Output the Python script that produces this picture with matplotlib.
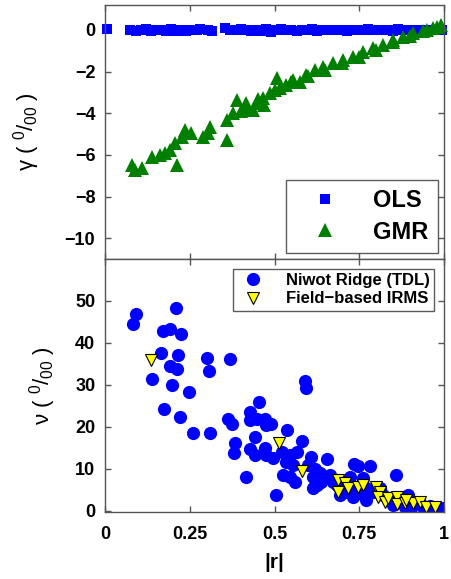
import matplotlib.pyplot as plt
import numpy as np

plt.rcParams['font.family'] = ['Liberation Sans', 'DejaVu Sans']
plt.rcParams['mathtext.fontset'] = 'custom'
plt.rcParams['mathtext.rm'] = 'Liberation Sans'
plt.rcParams['mathtext.it'] = 'Liberation Sans:italic'

# OLS slope offsets (gamma) vs |r|
ols_r = [0.007, 0.075, 0.09, 0.105, 0.12, 0.135, 0.15, 0.165, 0.18, 0.195, 0.21,
         0.225, 0.24, 0.255, 0.27, 0.28, 0.305, 0.315, 0.355, 0.37, 0.385, 0.40,
         0.415, 0.43, 0.445, 0.46, 0.475, 0.49, 0.505, 0.52, 0.535, 0.55, 0.565,
         0.58, 0.595, 0.61, 0.625, 0.64, 0.655, 0.67, 0.685, 0.70, 0.715, 0.73,
         0.745, 0.76, 0.775, 0.79, 0.805, 0.82, 0.835, 0.85, 0.865, 0.88, 0.895,
         0.91, 0.925, 0.94, 0.955, 0.97, 0.985, 0.995]
ols_gamma = [0.05, 0.02, -0.03, 0.0, 0.04, -0.05, -0.02, 0.01, -0.06, 0.03, -0.04,
             0.0, -0.03, 0.02, -0.01, 0.03, 0.0, -0.04, 0.08, 0.02, -0.02, 0.05,
             0.0, -0.03, 0.01, -0.05, 0.03, -0.08, 0.0, 0.04, -0.02, 0.01, -0.04,
             0.02, -0.01, 0.03, -0.03, 0.0, 0.02, -0.02, 0.01, 0.0, -0.03, 0.02,
             0.0, -0.01, 0.03, -0.02, 0.01, 0.0, 0.02, -0.03, 0.05, 0.0, -0.02,
             0.01, 0.0, -0.01, 0.02, 0.0, 0.01, 0.0]

# GMR slope offsets (gamma) vs |r|
gmr_r = [0.079, 0.088, 0.108, 0.138, 0.162, 0.177, 0.192, 0.206, 0.211, 0.226,
         0.236, 0.255, 0.290, 0.309, 0.305, 0.359, 0.359, 0.378, 0.388, 0.417,
         0.437, 0.447, 0.467, 0.486, 0.506, 0.516, 0.535, 0.555, 0.575, 0.594,
         0.619, 0.643, 0.673, 0.702, 0.732, 0.761, 0.791, 0.820, 0.850, 0.879,
         0.909, 0.938, 0.968, 0.992, 0.40, 0.42, 0.45, 0.47, 0.50, 0.55, 0.60,
         0.65, 0.70, 0.75, 0.80, 0.85, 0.90, 0.95, 0.98]
gmr_gamma = [-6.48, -6.72, -6.64, -6.08, -6.0, -5.92, -5.76, -5.44, -6.48, -5.12,
             -4.8, -4.96, -5.12, -4.64, -4.96, -5.28, -4.32, -4.0, -3.36, -3.52,
             -3.84, -3.52, -3.28, -3.04, -2.32, -2.8, -2.64, -2.4, -2.48, -2.16,
             -1.92, -1.76, -1.6, -1.44, -1.28, -1.04, -0.88, -0.72, -0.48, -0.32,
             -0.16, -0.03, 0.08, 0.24, -3.9, -3.8, -3.3, -3.6, -2.9, -2.5, -2.2,
             -1.9, -1.6, -1.3, -0.95, -0.6, -0.3, 0.0, 0.15]

# nu vs |r|, Niwot Ridge TDL
niwot_r = [0.082, 0.091, 0.209, 0.170, 0.192, 0.224, 0.165, 0.216, 0.192, 0.211,
           0.138, 0.199, 0.249, 0.302, 0.308, 0.370, 0.175, 0.222, 0.261, 0.310,
           0.363, 0.375, 0.383, 0.381, 0.415, 0.504, 0.453, 0.429, 0.429, 0.447,
           0.442, 0.427, 0.442, 0.472, 0.476, 0.491, 0.472, 0.476, 0.496, 0.537,
           0.582, 0.589, 0.594, 0.521, 0.545, 0.565, 0.535, 0.555, 0.525, 0.545,
           0.560, 0.609, 0.599, 0.619, 0.614, 0.634, 0.624, 0.614, 0.638, 0.655,
           0.663, 0.673, 0.683, 0.693, 0.712, 0.734, 0.747, 0.781, 0.722, 0.761,
           0.732, 0.752, 0.771, 0.791, 0.810, 0.820, 0.840, 0.858, 0.869, 0.894,
           0.909, 0.929, 0.958, 0.977, 0.997, 0.771, 0.732, 0.693, 0.850, 0.884,
           0.938, 0.904]
niwot_nu = [44.4, 47.0, 48.3, 42.8, 43.3, 42.1, 37.5, 37.1, 34.5, 33.7,
            31.4, 30.1, 28.4, 36.5, 33.3, 36.1, 24.2, 22.4, 18.5, 18.5,
            22.0, 20.8, 16.1, 13.7, 8.0, 3.8, 26.0, 23.6, 21.6, 22.0,
            17.7, 14.7, 13.3, 22.0, 20.4, 20.8, 14.9, 13.3, 12.5, 19.3,
            16.6, 30.9, 29.3, 14.1, 13.3, 14.1, 11.7, 10.9, 8.6, 8.2,
            7.0, 12.9, 10.9, 10.1, 8.2, 9.0, 6.2, 5.4, 7.0, 12.3,
            8.6, 7.0, 6.2, 5.4, 4.6, 11.3, 10.8, 10.8, 8.2, 7.8,
            5.4, 4.2, 5.4, 4.6, 5.4, 3.8, 3.0, 8.6, 2.2, 3.8,
            2.2, 1.8, 1.3, 1.0, 0.8, 2.6, 3.4, 3.8, 1.4, 1.0,
            0.9, 0.8]

# nu vs |r|, field-based IRMS
irms_r = [0.136, 0.514, 0.582, 0.688, 0.707, 0.688, 0.717, 0.747, 0.761, 0.800,
          0.810, 0.805, 0.825, 0.835, 0.860, 0.860, 0.884, 0.909, 0.929, 0.948,
          0.972, 0.889]
irms_nu = [35.9, 16.1, 9.5, 7.4, 6.6, 4.6, 5.4, 5.8, 6.2, 5.8,
           4.6, 3.4, 2.2, 3.0, 3.4, 1.6, 1.8, 1.8, 2.2, 1.0,
           0.9, 2.6]

xticks = [0, 0.25, 0.5, 0.75, 1]
xticklabels = ['0', '0.25', '0.5', '0.75', '1']

fig = plt.figure(figsize=(4.51, 5.79), dpi=100)
ax1 = fig.add_axes([0.2328, 0.5527, 0.7517, 0.4387])
ax2 = fig.add_axes([0.2328, 0.1157, 0.7517, 0.4370])

spine_col = '#555555'
for ax in (ax1, ax2):
    for s in ax.spines.values():
        s.set_color(spine_col)
        s.set_linewidth(1.0)
    ax.tick_params(direction='in', length=4, width=1, color=spine_col,
                   top=True, right=True, labelsize=13, pad=7)
    ax.set_xlim(0, 1)
    ax.set_xticks(xticks)

# top panel
ax1.plot(ols_r, ols_gamma, 's', color='#0000ff', markersize=7.5,
         markeredgewidth=0, label='OLS', clip_on=False)
ax1.plot(gmr_r, gmr_gamma, '^', color='#007f00', markersize=10,
         markeredgewidth=0, label='GMR', clip_on=False)
ax1.set_ylim(-11, 1.2)
ax1.set_yticks([0, -2, -4, -6, -8, -10])
ax1.set_yticklabels(['0', '\u22122', '\u22124', '\u22126', '\u22128', '\u221210'],
                    fontweight='bold')
ax1.set_xticklabels([])
ax1.set_ylabel('\u03b3 ( $^{0}/_{00}$ )', fontsize=16, labelpad=16)
leg1 = ax1.legend(loc='lower right', prop={'weight': 'bold', 'size': 17},
                  fancybox=False, edgecolor='#333333', borderpad=0.4,
                  handletextpad=0.8, labelspacing=0.35, handlelength=2.5,
                  borderaxespad=0.25)
leg1.get_frame().set_linewidth(1.0)

# bottom panel
ax2.plot(niwot_r, niwot_nu, 'o', color='#0000ff', markersize=9.5,
         markeredgewidth=0, label='Niwot Ridge (TDL)')
ax2.plot(irms_r, irms_nu, 'v', color='#ffff00', markersize=8,
         markeredgecolor='black', markeredgewidth=0.8,
         label='Field\u2212based IRMS')
ax2.set_ylim(-0.25, 60)
ax2.set_yticks([0, 10, 20, 30, 40, 50])
ax2.set_yticklabels(['0', '10', '20', '30', '40', '50'], fontweight='bold')
ax2.set_xticklabels(xticklabels, fontweight='bold')
ax2.tick_params(axis='x', pad=10)
ax2.set_ylabel('\u03bd ( $^{0}/_{00}$ )', fontsize=16, labelpad=12)
ax2.set_xlabel('|r|', fontsize=15, fontweight='bold', labelpad=7)
leg2 = ax2.legend(loc='upper right', prop={'weight': 'bold', 'size': 12},
                  fancybox=False, edgecolor='#333333', borderpad=0.25,
                  handletextpad=1.1, labelspacing=0.2, handlelength=1.8,
                  borderaxespad=0.6)
leg2.get_frame().set_linewidth(1.0)

fig.savefig('out.png', dpi=100)
